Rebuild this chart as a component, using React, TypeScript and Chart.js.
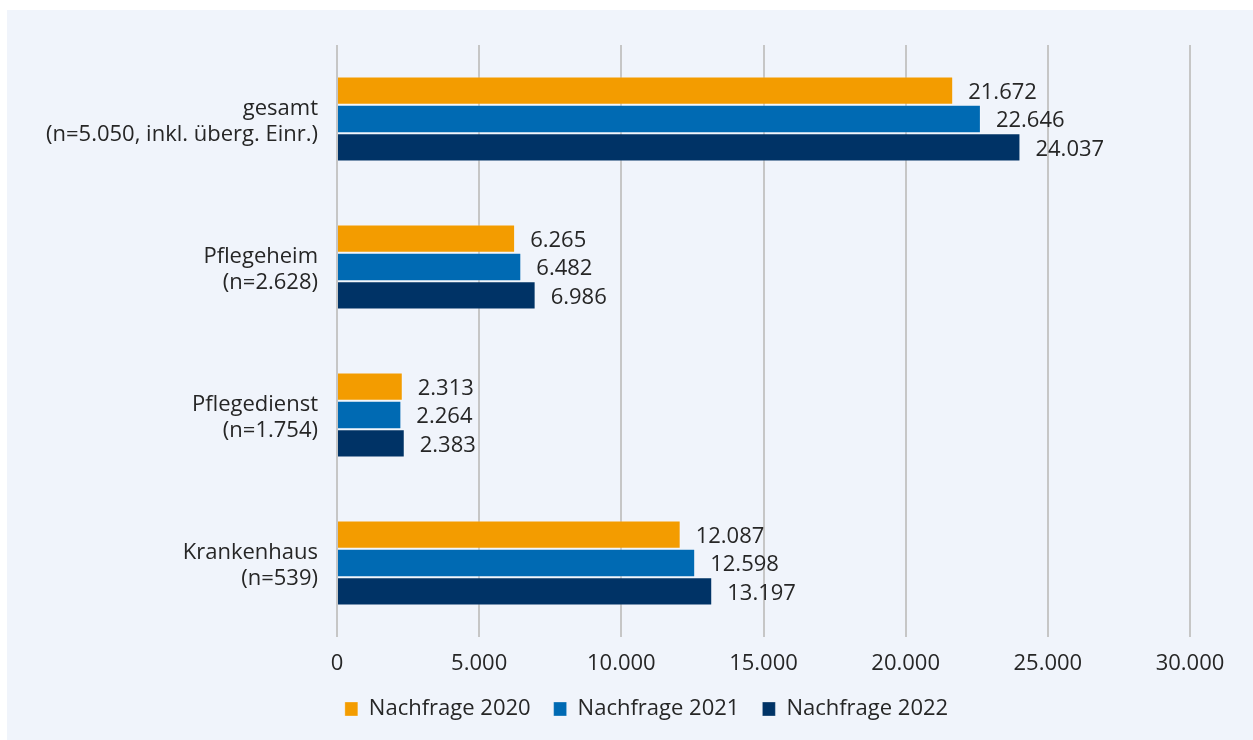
import React, { useEffect, useRef } from "react";
import { Chart, registerables } from "chart.js";

Chart.register(...registerables);

const categories: string[][] = [
  ["gesamt", "(n=5.050, inkl. überg. Einr.)"],
  ["Pflegeheim", "(n=2.628)"],
  ["Pflegedienst", "(n=1.754)"],
  ["Krankenhaus", "(n=539)"],
];
const seriesNames = ["Nachfrage 2020", "Nachfrage 2021", "Nachfrage 2022"];
const values2020 = [21672, 6265, 2313, 12087];
const values2021 = [22646, 6482, 2264, 12598];
const values2022 = [24037, 6986, 2383, 13197];
const seriesColors = ["#F39C00", "#006AB3", "#003366"];

const FONT = "'Open Sans', 'Noto Sans', sans-serif";
const FS = 22;
const fmt = (v: number) => v.toLocaleString("de-DE");

const valueLabels = {
  id: "valueLabels",
  afterDatasetsDraw(chart: any) {
    const ctx = chart.ctx;
    ctx.save();
    ctx.font = `${FS}px ${FONT}`;
    ctx.fillStyle = "#262626";
    ctx.textAlign = "left";
    ctx.textBaseline = "middle";
    chart.data.datasets.forEach((ds: any, i: number) => {
      const meta = chart.getDatasetMeta(i);
      meta.data.forEach((bar: any, j: number) => {
        ctx.fillText(fmt(ds.data[j]), bar.x + 15, bar.y + 2);
      });
    });
    ctx.restore();
  },
};

const legendPlacement = {
  id: "legendPlacement",
  beforeInit(chart: any) {
    const legend = chart.legend;
    if (!legend) return;
    const orig = legend.fit;
    legend.fit = function () {
      orig.call(this);
      this.height = 43;
    };
  },
  afterLayout(chart: any) {
    const legend = chart.legend;
    if (!legend) return;
    legend.top -= 12;
    legend.bottom = chart.height;
    legend.left += 48;
    legend.right += 48;
  },
};

export default function App() {
  const ref = useRef<HTMLCanvasElement>(null);
  useEffect(() => {
    if (!ref.current) return;
    const chart = new Chart(ref.current, {
      type: "bar",
      data: {
        labels: categories,
        datasets: [values2020, values2021, values2022].map((d, i) => ({
          label: seriesNames[i],
          data: d,
          backgroundColor: seriesColors[i],
          borderColor: "rgba(255,255,255,0.3)",
          borderWidth: 1,
          categoryPercentage: 0.574,
          barPercentage: 1.0,
        })),
      },
      options: {
        indexAxis: "y",
        animation: false,
        responsive: false,
        maintainAspectRatio: false,
        layout: { padding: { left: 0, right: 63, top: 35, bottom: 10 } },
        scales: {
          x: {
            min: 0,
            max: 30000,
            ticks: {
              stepSize: 5000,
              padding: 14,
              color: "#262626",
              font: { size: FS, family: FONT },
              callback: (v: any) => fmt(Number(v)),
            },
            grid: { color: "#C6C6C6", lineWidth: 2, drawTicks: false },
            border: { display: false },
            afterFit: (s: any) => {
              s.height = 50;
              s.paddingLeft = 0;
              s.paddingRight = 0;
            },
          },
          y: {
            ticks: {
              padding: 19,
              labelOffset: 3,
              color: "#262626",
              font: { size: FS, family: FONT, lineHeight: 1.2 },
            },
            grid: { display: false, drawTicks: false },
            border: { display: false },
            afterFit: (s: any) => {
              s.width = 330;
              s.paddingTop = 0;
              s.paddingBottom = 0;
            },
          },
        },
        plugins: {
          legend: {
            position: "bottom",
            labels: {
              boxWidth: 13,
              boxHeight: 14,
              padding: 23,
              color: "#262626",
              font: { size: FS, family: FONT },
            },
          },
          tooltip: { enabled: false },
        },
      },
      plugins: [valueLabels, legendPlacement],
    });
    return () => chart.destroy();
  }, []);
  return (
    <div
      style={{
        position: "fixed",
        left: 7,
        top: 10,
        width: 1246,
        height: 730,
        background: "#F0F4FB",
      }}
    >
      <canvas ref={ref} width={1246} height={730} style={{ display: "block" }} />
    </div>
  );
}
